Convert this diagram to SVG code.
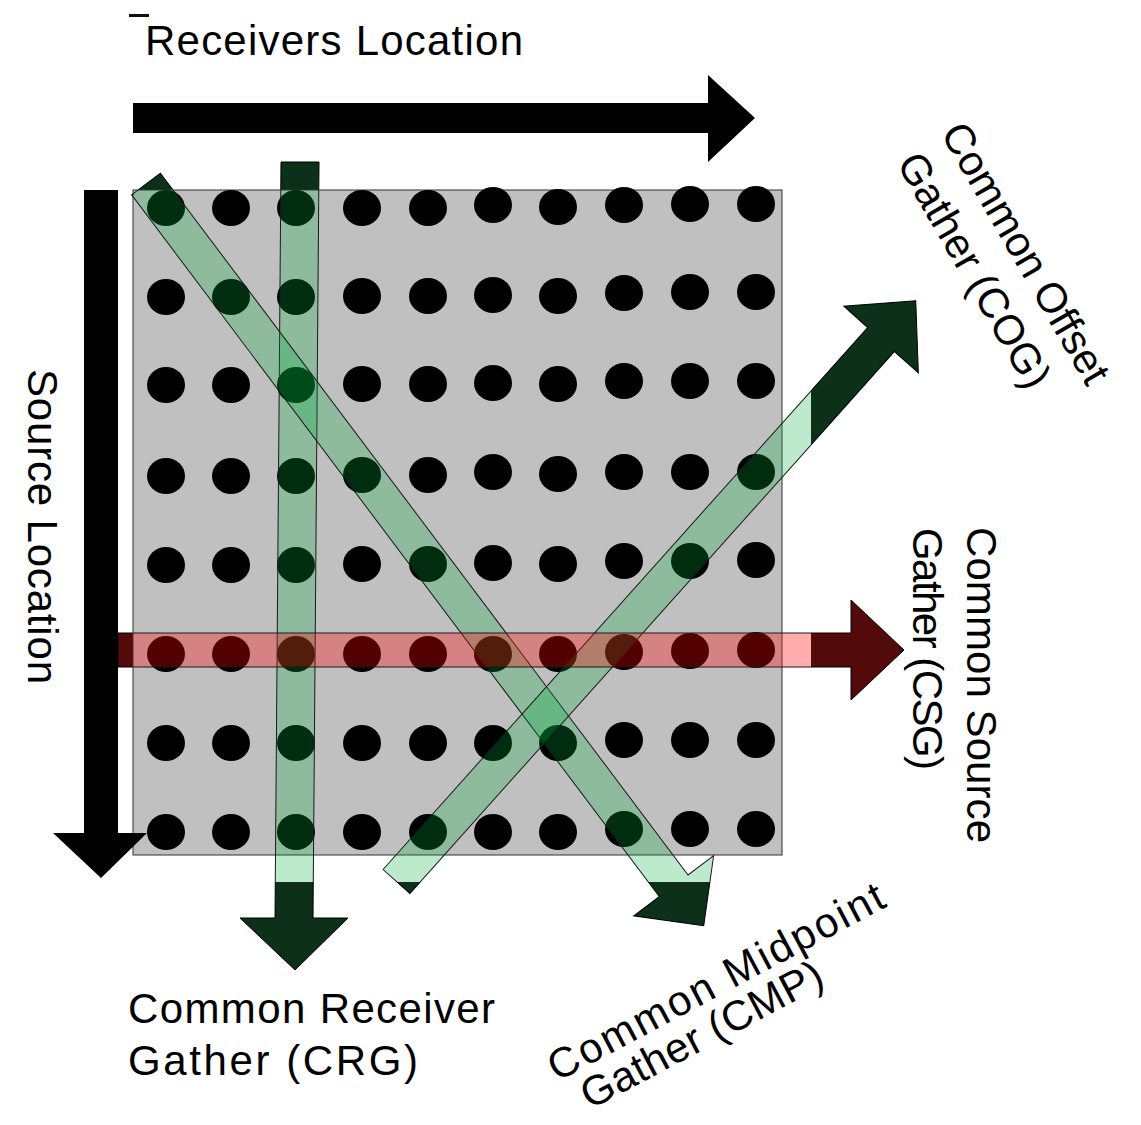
<svg xmlns="http://www.w3.org/2000/svg" width="1141" height="1125" viewBox="0 0 1141 1125">
<defs>
<style>
.lbl{font-family:"Liberation Sans",Arial,sans-serif;font-size:42px;fill:#000}
.dot{fill:#000}
.dkg{fill:#0c3019;stroke:#000;stroke-width:1}
.dkr{fill:#520a0a;stroke:#000;stroke-width:1}
.ovg{fill:rgb(0,170,60);fill-opacity:0.26;stroke:#1a1a1a;stroke-width:1}
.ovr{fill:rgb(255,0,0);fill-opacity:0.32;stroke:#1a1a1a;stroke-width:1}
.axis{fill:#000}
</style>
<clipPath id="field"><rect x="133" y="190" width="678" height="692"/></clipPath>
<polygon id="crgShape" points="281,162 319,162 313,918 348,918 295,970 240,918 275,918"/>
<polygon id="csgShape" points="118,633 851,633 851,600 904,650 851,700 851,667 118,667"/>
<polygon id="cmpShape" transform="translate(146,184) rotate(53.06)" points="0,-18 878,-18 878,-50 928,0 878,50 878,18 0,18"/>
<polygon id="cogShape" transform="translate(396.5,881.5) rotate(-48.2)" points="0,-18 727,-18 727,-50 779,0 727,50 727,18 0,18"/>
</defs>
<rect width="1141" height="1125" fill="#fff"/>
<g id="connectors">
<g id="gather-arrows-dark">
<use href="#crgShape" class="dkg"/>
<use href="#cmpShape" class="dkg"/>
<use href="#cogShape" class="dkg"/>
<use href="#csgShape" class="dkr"/>
</g>
</g>
<g id="grid">
<rect x="133" y="190" width="678" height="692" fill="#fff"/>
<rect x="133" y="190" width="649" height="665" fill="#c0c0c0" stroke="#333" stroke-width="1"/>
<g class="dot">
<ellipse cx="166" cy="208" rx="19" ry="18"/><ellipse cx="231" cy="208" rx="19" ry="18"/><ellipse cx="296" cy="208" rx="19" ry="18"/><ellipse cx="362" cy="208" rx="19" ry="18"/><ellipse cx="428" cy="208" rx="19" ry="18"/><ellipse cx="493" cy="205" rx="19" ry="18"/><ellipse cx="558" cy="207" rx="19" ry="18"/><ellipse cx="624" cy="205" rx="19" ry="18"/><ellipse cx="690" cy="204" rx="19" ry="18"/><ellipse cx="756" cy="204" rx="19" ry="18"/>
<ellipse cx="166" cy="297" rx="19" ry="18"/><ellipse cx="231" cy="297" rx="19" ry="18"/><ellipse cx="296" cy="297" rx="19" ry="18"/><ellipse cx="362" cy="296" rx="19" ry="18"/><ellipse cx="428" cy="296" rx="19" ry="18"/><ellipse cx="493" cy="295" rx="19" ry="18"/><ellipse cx="558" cy="296" rx="19" ry="18"/><ellipse cx="624" cy="293" rx="19" ry="18"/><ellipse cx="690" cy="292" rx="19" ry="18"/><ellipse cx="756" cy="292" rx="19" ry="18"/>
<ellipse cx="166" cy="385" rx="19" ry="18"/><ellipse cx="231" cy="385" rx="19" ry="18"/><ellipse cx="296" cy="385" rx="19" ry="18"/><ellipse cx="362" cy="384" rx="19" ry="18"/><ellipse cx="428" cy="384" rx="19" ry="18"/><ellipse cx="493" cy="383" rx="19" ry="18"/><ellipse cx="558" cy="384" rx="19" ry="18"/><ellipse cx="624" cy="381" rx="19" ry="18"/><ellipse cx="690" cy="381" rx="19" ry="18"/><ellipse cx="756" cy="381" rx="19" ry="18"/>
<ellipse cx="166" cy="476" rx="19" ry="18"/><ellipse cx="231" cy="476" rx="19" ry="18"/><ellipse cx="296" cy="476" rx="19" ry="18"/><ellipse cx="362" cy="475" rx="19" ry="18"/><ellipse cx="428" cy="475" rx="19" ry="18"/><ellipse cx="493" cy="472" rx="19" ry="18"/><ellipse cx="558" cy="474" rx="19" ry="18"/><ellipse cx="624" cy="472" rx="19" ry="18"/><ellipse cx="690" cy="472" rx="19" ry="18"/><ellipse cx="756" cy="472" rx="19" ry="18"/>
<ellipse cx="166" cy="565" rx="19" ry="18"/><ellipse cx="231" cy="565" rx="19" ry="18"/><ellipse cx="296" cy="565" rx="19" ry="18"/><ellipse cx="362" cy="564" rx="19" ry="18"/><ellipse cx="428" cy="564" rx="19" ry="18"/><ellipse cx="493" cy="563" rx="19" ry="18"/><ellipse cx="558" cy="564" rx="19" ry="18"/><ellipse cx="624" cy="561" rx="19" ry="18"/><ellipse cx="690" cy="561" rx="19" ry="18"/><ellipse cx="756" cy="560" rx="19" ry="18"/>
<ellipse cx="166" cy="654" rx="19" ry="18"/><ellipse cx="231" cy="654" rx="19" ry="18"/><ellipse cx="296" cy="654" rx="19" ry="18"/><ellipse cx="362" cy="654" rx="19" ry="18"/><ellipse cx="428" cy="654" rx="19" ry="18"/><ellipse cx="493" cy="654" rx="19" ry="18"/><ellipse cx="558" cy="654" rx="19" ry="18"/><ellipse cx="624" cy="652" rx="19" ry="18"/><ellipse cx="690" cy="651" rx="19" ry="18"/><ellipse cx="756" cy="650" rx="19" ry="18"/>
<ellipse cx="166" cy="743" rx="19" ry="18"/><ellipse cx="231" cy="743" rx="19" ry="18"/><ellipse cx="296" cy="743" rx="19" ry="18"/><ellipse cx="362" cy="743" rx="19" ry="18"/><ellipse cx="428" cy="743" rx="19" ry="18"/><ellipse cx="493" cy="743" rx="19" ry="18"/><ellipse cx="558" cy="743" rx="19" ry="18"/><ellipse cx="624" cy="740" rx="19" ry="18"/><ellipse cx="690" cy="740" rx="19" ry="18"/><ellipse cx="756" cy="740" rx="19" ry="18"/>
<ellipse cx="166" cy="832" rx="19" ry="18"/><ellipse cx="231" cy="832" rx="19" ry="18"/><ellipse cx="296" cy="832" rx="19" ry="18"/><ellipse cx="362" cy="832" rx="19" ry="18"/><ellipse cx="428" cy="832" rx="19" ry="18"/><ellipse cx="493" cy="832" rx="19" ry="18"/><ellipse cx="558" cy="832" rx="19" ry="18"/><ellipse cx="624" cy="829" rx="19" ry="18"/><ellipse cx="690" cy="829" rx="19" ry="18"/><ellipse cx="756" cy="829" rx="19" ry="18"/>
</g>
</g>
<g id="gather-overlays" clip-path="url(#field)">
<use href="#crgShape" class="ovg"/>
<use href="#cmpShape" class="ovg"/>
<use href="#cogShape" class="ovg"/>
<use href="#csgShape" class="ovr"/>
</g>
<g id="receivers-axis">
<polygon class="axis" points="133,103 708,103 708,75 755,118 708,162 708,133 133,133"/>
<rect x="129" y="14" width="20" height="3" fill="#111"/>
<text class="lbl" x="145" y="55" textLength="378">Receivers Location</text>
</g>
<g id="source-axis">
<polygon class="axis" points="84,190 118,190 118,833 147,833 101,878 53,833 84,833"/>
<text class="lbl" transform="translate(28,369) rotate(90)" textLength="315">Source Location</text>
</g>
<g id="label-cog">
<text class="lbl" transform="translate(940,133) rotate(60)" textLength="294">Common Offset</text>
<text class="lbl" transform="translate(896,163) rotate(60)" textLength="264">Gather (COG)</text>
</g>
<g id="label-csg">
<text class="lbl" transform="translate(967,527) rotate(90)" textLength="316">Common Source</text>
<text class="lbl" transform="translate(913,528) rotate(90)" textLength="242">Gather (CSG)</text>
</g>
<g id="label-crg">
<text class="lbl" x="128" y="1023" textLength="367">Common Receiver</text>
<text class="lbl" x="128" y="1075" textLength="290">Gather (CRG)</text>
</g>
<g id="label-cmp">
<text class="lbl" transform="translate(557,1082) rotate(-28)" textLength="375">Common Midpoint</text>
<text class="lbl" transform="translate(590,1110) rotate(-28)" textLength="268">Gather (CMP)</text>
</g>
</svg>
